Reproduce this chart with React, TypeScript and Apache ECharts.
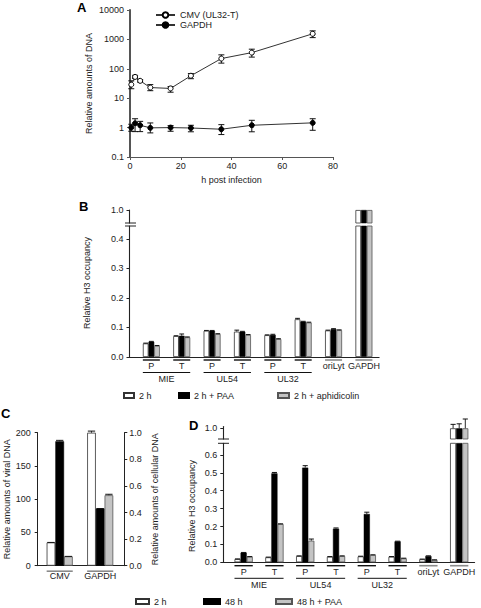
import React, { useEffect, useRef } from 'react';
import * as echarts from 'echarts';

const FONT = '"Liberation Sans", Arial, sans-serif';

// ---------- Panel A ----------
const hoursA = [0.5, 2, 4, 8, 16, 24, 36, 48, 72];
const cmvA = [29, 53, 39, 23, 21.5, 58, 223, 355, 1550];
const cmvLowA = [21, 47, 35, 18, 16, 46, 156, 250, 1150];
const cmvHighA = [39, 60, 43, 29, 25, 69, 298, 465, 1950];
const gapdhA = [1.0, 1.4, 1.2, 0.98, 1.0, 0.97, 0.88, 1.2, 1.45];
const gapdhLowA = [0.75, 0.73, 0.73, 0.66, 0.75, 0.72, 0.58, 0.72, 0.81];
const gapdhHighA = [1.3, 2.0, 1.63, 1.44, 1.17, 1.2, 1.26, 1.77, 2.0];
const seriesA = ['CMV (UL32-T)', 'GAPDH'];

// ---------- Panels B & D (shared categories) ----------
const regionCats = ['P', 'T', 'P', 'T', 'P', 'T', 'oriLyt', 'GAPDH'];
const geneGroups = ['MIE', 'UL54', 'UL32'];
const occTicksB = [0, 0.1, 0.2, 0.3, 0.4];
const occTicksD = [0, 0.1, 0.2, 0.3, 0.4, 0.5, 0.6];

// Panel B
const seriesB = ['2 h', '2 h + PAA', '2 h + aphidicolin'];
const b2h = [0.046, 0.071, 0.089, 0.086, 0.074, 0.128, 0.09, 1.0];
const b2hPAA = [0.052, 0.072, 0.089, 0.086, 0.075, 0.12, 0.095, 1.0];
const b2hAph = [0.038, 0.067, 0.078, 0.075, 0.061, 0.117, 0.091, 1.0];
const b2hTop = [0.047, 0.072, 0.09, 0.091, 0.075, 0.131, 0.091, 1.0];
const b2hPAATop = [0.053, 0.078, 0.09, 0.087, 0.077, 0.121, 0.096, 1.0];
const b2hAphTop = [0.039, 0.068, 0.079, 0.076, 0.062, 0.118, 0.092, 1.0];

// Panel C / D treatments
const seriesCD = ['2 h', '48 h', '48 h + PAA'];

// Panel C
const catsC = ['CMV', 'GAPDH'];
const cViral = [35, 187, 14];
const cViralTop = [35, 188.5, 14];
const cCell = [1.0, 0.43, 0.53];
const cCellTop = [1.012, 0.43, 0.537];

// Panel D
const d2h = [0.018, 0.028, 0.035, 0.031, 0.033, 0.031, 0.017, 1.0];
const d48 = [0.054, 0.497, 0.529, 0.188, 0.27, 0.117, 0.035, 1.0];
const d48PAA = [0.031, 0.214, 0.121, 0.035, 0.041, 0.022, 0.013, 1.0];
const d2hTop = [0.019, 0.029, 0.036, 0.032, 0.034, 0.032, 0.018, 1.022];
const d48Top = [0.055, 0.502, 0.54, 0.192, 0.28, 0.118, 0.036, 1.025];
const d48PAATop = [0.032, 0.215, 0.13, 0.036, 0.042, 0.023, 0.014, 1.052];

// ---------- styles ----------
const TXT = { fontFamily: FONT, fontSize: 9, color: '#222' };
const AXIS_COLOR = '#222';
const barStyles = [
  { color: '#ffffff', borderColor: '#333', borderWidth: 0.8 },
  { color: '#000000', borderColor: '#000', borderWidth: 0.5 },
  { color: '#c4c4c4', borderColor: '#555', borderWidth: 0.8 },
];

const BW_B = 5.67;
const BW_C = 8.7;
const BW_D = 6.1;

const fmt1 = (v: number) => v.toFixed(1);

function errorSeries(xIdx: number, yIdx: number, rows: number[][], bw: number) {
  return {
    type: 'custom',
    xAxisIndex: xIdx,
    yAxisIndex: yIdx,
    silent: true,
    z: 5,
    encode: { x: 0, y: 2 },
    data: rows,
    renderItem: (_p: any, api: any) => {
      const x = api.value(0);
      const slot = api.value(1);
      const v = api.value(2);
      const t = api.value(3);
      const p = api.coord([x, v]);
      const q = api.coord([x, t]);
      const cx = p[0] + (slot - 1) * bw;
      const hw = bw * 0.42;
      return {
        type: 'group',
        children: [
          { type: 'line', shape: { x1: cx, y1: p[1], x2: cx, y2: q[1] }, style: { stroke: '#111', lineWidth: 0.9 } },
          { type: 'line', shape: { x1: cx - hw, y1: q[1], x2: cx + hw, y2: q[1] }, style: { stroke: '#111', lineWidth: 1 } },
        ],
      };
    },
  };
}

function bracketSeries(xIdx: number, yIdx: number, rows: number[][], bw: number, offs: number[]) {
  return {
    type: 'custom',
    xAxisIndex: xIdx,
    yAxisIndex: yIdx,
    silent: true,
    encode: { x: 0, y: 2 },
    data: rows,
    renderItem: (_p: any, api: any) => {
      const xs = api.value(0);
      const xe = api.value(1);
      const level = api.value(2);
      const gray = api.value(3);
      const p1 = api.coord([xs, 0]);
      const p2 = api.coord([xe, 0]);
      const y = p1[1] + offs[level];
      return {
        type: 'line',
        shape: { x1: p1[0] - 1.5 * bw, y1: y, x2: p2[0] + 1.5 * bw, y2: y },
        style: {
          stroke: gray ? '#8a8a8a' : '#111',
          lineWidth: gray ? 1.6 : level === 0 ? 1.4 : 1,
        },
      };
    },
  };
}

function buildOption() {
  const BXMIN = -0.72, BXMAX = 7.5;
  const DXMIN = -0.66, DXMAX = 7.5;
  const CXMIN = -0.543, CXMAX = 1.595;
  const B_UP_MIN = 0.956, B_UP_MAX = 1.0;
  const D_UP_MIN = 0.94, D_UP_MAX = 1.01;

  const hidX = (grid: number, min: number, max: number) => ({
    type: 'value', gridIndex: grid, min, max, show: false, splitLine: { show: false },
  });
  const catX = (grid: number, min: number, max: number, values: number[], names: string[], margin: number, showLine: boolean, offsetIdx: number) => ({
    type: 'value', gridIndex: grid, min, max, position: 'bottom',
    splitLine: { show: false },
    axisLine: { show: showLine, onZero: false, lineStyle: { color: AXIS_COLOR, width: 1.1 } },
    axisTick: { show: false },
    axisLabel: {
      ...TXT,
      margin,
      customValues: values,
      formatter: (v: number) => names[Math.round((v - offsetIdx) / (offsetIdx ? 2 : 1))] ?? '',
    },
  });
  const occY = (grid: number, min: number, max: number, ticks: number[]) => ({
    type: 'value', gridIndex: grid, min, max,
    splitLine: { show: false },
    axisLine: { show: true, onZero: false, lineStyle: { color: AXIS_COLOR, width: 1.1 } },
    axisTick: { show: true, length: 3, customValues: ticks, lineStyle: { color: AXIS_COLOR } },
    axisLabel: { ...TXT, margin: 6, customValues: ticks, formatter: fmt1 },
  });

  const barsFor = (names: string[], arrays: number[][], xIdx: number, yIdx: number, bw: number, filter: (v: number) => boolean, xs?: number[]) =>
    names.map((n, s) => ({
      name: n,
      type: 'bar',
      xAxisIndex: xIdx,
      yAxisIndex: yIdx,
      barWidth: bw,
      barGap: '0%',
      itemStyle: barStyles[s],
      data: arrays[s]
        .map((v, i) => [xs ? xs[i] : i, v])
        .filter((d) => filter(d[1])),
    }));

  const errRows = (vals: number[][], tops: number[][], filter: (v: number) => boolean, xs?: number[]) => {
    const rows: number[][] = [];
    vals.forEach((arr, s) =>
      arr.forEach((v, i) => {
        if (filter(v)) rows.push([xs ? xs[i] : i, s, v, tops[s][i]]);
      })
    );
    return rows;
  };

  const bVals = [b2h, b2hPAA, b2hAph];
  const bTops = [b2hTop, b2hPAATop, b2hAphTop];
  const dVals = [d2h, d48, d48PAA];
  const dTops = [d2hTop, d48Top, d48PAATop];

  const bracketRows: number[][] = [
    ...regionCats.map((c, i) => [i, i, 0, i >= 6 ? 1 : 0]),
    ...geneGroups.map((_g, k) => [2 * k, 2 * k + 1, 1, 0]),
  ];

  const catIdx = regionCats.map((_c, i) => i);
  const groupIdx = geneGroups.map((_g, k) => 2 * k + 0.5);

  const legendItem = (name: string, left: number, top: number, w: number) => ({
    data: [name], left, top, icon: 'rect', itemWidth: w, itemHeight: 5, padding: 0,
    itemGap: 0, selectedMode: false, textStyle: { ...TXT },
  });

  return {
    animation: false,
    backgroundColor: '#ffffff',
    textStyle: { fontFamily: FONT },
    grid: [
      { left: 130, top: 10, width: 203, height: 147, containLabel: false, outerBoundsMode: 'none' },
      { left: 129.5, top: 210, width: 249.6, height: 13, containLabel: false, outerBoundsMode: 'none' },
      { left: 129.5, top: 226, width: 249.6, height: 131, containLabel: false, outerBoundsMode: 'none' },
      { left: 37.7, top: 432.7, width: 86.6, height: 133, containLabel: false, outerBoundsMode: 'none' },
      { left: 223.3, top: 426.5, width: 251.3, height: 12.5, containLabel: false, outerBoundsMode: 'none' },
      { left: 223.3, top: 443.3, width: 251.3, height: 119, containLabel: false, outerBoundsMode: 'none' },
    ],
    legend: [
      {
        data: seriesA, left: 155, top: 10, orient: 'vertical', itemWidth: 19, itemHeight: 7,
        itemGap: 0, padding: 0, selectedMode: false, textStyle: { ...TXT, lineHeight: 10 },
      },
      legendItem(seriesB[0], 123, 391, 10),
      legendItem(seriesB[1], 178, 391, 10),
      legendItem(seriesB[2], 277, 391, 11),
      legendItem(seriesCD[0], 135, 597, 13),
      legendItem(seriesCD[1], 203, 597, 16),
      legendItem(seriesCD[2], 275, 597, 16),
    ],
    xAxis: [
      {
        type: 'value', gridIndex: 0, min: 0, max: 80, interval: 20,
        splitLine: { show: false },
        axisLine: { onZero: false, lineStyle: { color: '#555', width: 1 } },
        axisTick: { show: true, length: 3, lineStyle: { color: '#555' } },
        axisLabel: { ...TXT, margin: 4 },
        name: 'h post infection', nameLocation: 'middle', nameGap: 18, nameTextStyle: { ...TXT },
      },
      hidX(1, BXMIN, BXMAX),
      catX(2, BXMIN, BXMAX, catIdx, regionCats, 4, true, 0),
      catX(2, BXMIN, BXMAX, groupIdx, geneGroups, 17, false, 0.5),
      catX(3, CXMIN, CXMAX, [0, 1], catsC, 6, true, 0),
      hidX(3, CXMIN, CXMAX),
      hidX(4, DXMIN, DXMAX),
      catX(5, DXMIN, DXMAX, catIdx, regionCats, 5, true, 0),
      catX(5, DXMIN, DXMAX, groupIdx, geneGroups, 18, false, 0.5),
    ],
    yAxis: [
      {
        type: 'log', logBase: 10, gridIndex: 0, min: 0.1, max: 10000,
        splitLine: { show: false },
        axisLine: { onZero: false, lineStyle: { color: '#555', width: 2 } },
        axisTick: { show: true, length: 3, lineStyle: { color: '#555' } },
        axisLabel: { ...TXT, margin: 6, formatter: (v: number) => String(Number(v.toPrecision(6))) },
        name: 'Relative amounts of DNA', nameLocation: 'middle', nameGap: 37, nameTextStyle: { ...TXT },
      },
      occY(1, B_UP_MIN, B_UP_MAX, [1]),
      occY(2, 0, 0.444, occTicksB),
      {
        type: 'value', gridIndex: 3, min: 0, max: 200, interval: 50,
        splitLine: { show: false },
        axisLine: { show: true, onZero: false, lineStyle: { color: AXIS_COLOR, width: 1 } },
        axisTick: { show: true, length: 3, lineStyle: { color: AXIS_COLOR } },
        axisLabel: { ...TXT, margin: 7 },
        name: 'Relative amounts of viral DNA', nameLocation: 'middle', nameGap: 25, nameTextStyle: { ...TXT },
      },
      {
        type: 'value', gridIndex: 3, min: 0, max: 1, interval: 0.2, position: 'right',
        splitLine: { show: false },
        axisLine: { show: true, onZero: false, lineStyle: { color: AXIS_COLOR, width: 1 } },
        axisTick: { show: true, length: 3, lineStyle: { color: AXIS_COLOR } },
        axisLabel: { ...TXT, margin: 5, formatter: fmt1 },
        name: 'Relative amounts of cellular DNA', nameLocation: 'middle', nameGap: 26, nameTextStyle: { ...TXT },
      },
      occY(4, D_UP_MIN, D_UP_MAX, [1]),
      occY(5, 0, 0.665, occTicksD),
    ],
    series: [
      // Panel A
      {
        type: 'custom', xAxisIndex: 0, yAxisIndex: 0, silent: true, z: 1,
        encode: { x: 0, y: [1, 2] },
        data: [
          ...hoursA.map((h, i) => [h, cmvLowA[i], cmvHighA[i]]),
          ...hoursA.map((h, i) => [h, gapdhLowA[i], gapdhHighA[i]]),
        ],
        renderItem: (_p: any, api: any) => {
          const a = api.coord([api.value(0), api.value(1)]);
          const b = api.coord([api.value(0), api.value(2)]);
          const hw = 3;
          return {
            type: 'group',
            children: [
              { type: 'line', shape: { x1: a[0], y1: a[1], x2: b[0], y2: b[1] }, style: { stroke: '#111', lineWidth: 1 } },
              { type: 'line', shape: { x1: a[0] - hw, y1: a[1], x2: a[0] + hw, y2: a[1] }, style: { stroke: '#111', lineWidth: 1 } },
              { type: 'line', shape: { x1: b[0] - hw, y1: b[1], x2: b[0] + hw, y2: b[1] }, style: { stroke: '#111', lineWidth: 1 } },
            ],
          };
        },
      },
      {
        name: seriesA[0], type: 'line', xAxisIndex: 0, yAxisIndex: 0, z: 3,
        data: hoursA.map((h, i) => [h, cmvA[i]]),
        symbol: 'circle', symbolSize: 5,
        itemStyle: { color: '#ffffff', borderColor: '#000', borderWidth: 1 },
        lineStyle: { color: '#333', width: 1 },
      },
      {
        name: seriesA[1], type: 'line', xAxisIndex: 0, yAxisIndex: 0, z: 3,
        data: hoursA.map((h, i) => [h, gapdhA[i]]),
        symbol: 'circle', symbolSize: 5,
        itemStyle: { color: '#000', borderColor: '#000', borderWidth: 1 },
        lineStyle: { color: '#333', width: 1 },
      },
      // Panel B
      ...barsFor(seriesB, bVals, 1, 1, BW_B, (v) => v > B_UP_MIN),
      ...barsFor(seriesB, bVals, 2, 2, BW_B, () => true),
      errorSeries(2, 2, errRows(bVals, bTops, (v) => v < 0.444), BW_B),
      bracketSeries(2, 2, bracketRows, BW_B, [3, 15.5]),
      // Panel C
      ...seriesCD.map((n, s) => ({
        name: n, type: 'bar', xAxisIndex: 4, yAxisIndex: 3, barWidth: BW_C, barGap: '0%',
        itemStyle: barStyles[s], data: [[0, cViral[s]]],
      })),
      ...seriesCD.map((n, s) => ({
        name: n, type: 'bar', xAxisIndex: 5, yAxisIndex: 4, barWidth: BW_C, barGap: '0%',
        itemStyle: barStyles[s], data: [[1, cCell[s]]],
      })),
      errorSeries(4, 3, cViral.map((v, s) => [0, s, v, cViralTop[s]]), BW_C),
      errorSeries(5, 4, cCell.map((v, s) => [1, s, v, cCellTop[s]]), BW_C),
      bracketSeries(4, 3, catsC.map((_c, i) => [i, i, 0, 1]), BW_C, [5.5, 0]),
      // Panel D
      ...barsFor(seriesCD, dVals, 6, 5, BW_D, (v) => v > D_UP_MIN),
      ...barsFor(seriesCD, dVals, 7, 6, BW_D, () => true),
      errorSeries(6, 5, errRows(dVals, dTops, (v) => v > D_UP_MIN), BW_D),
      errorSeries(7, 6, errRows(dVals, dTops, (v) => v < 0.665), BW_D),
      bracketSeries(7, 6, bracketRows, BW_D, [3.4, 16]),
    ],
    graphic: [
      { type: 'text', x: 77, y: 1, style: { text: 'A', font: `bold 13px ${FONT}`, fill: '#000', align: 'left', verticalAlign: 'top' } },
      { type: 'text', x: 79, y: 200, style: { text: 'B', font: `bold 13px ${FONT}`, fill: '#000', align: 'left', verticalAlign: 'top' } },
      { type: 'text', x: 1, y: 407, style: { text: 'C', font: `bold 13px ${FONT}`, fill: '#000', align: 'left', verticalAlign: 'top' } },
      { type: 'text', x: 189, y: 419, style: { text: 'D', font: `bold 13px ${FONT}`, fill: '#000', align: 'left', verticalAlign: 'top' } },
      { type: 'line', shape: { x1: 125, y1: 223, x2: 136, y2: 223 }, style: { stroke: '#222', lineWidth: 1 } },
      { type: 'line', shape: { x1: 125, y1: 226, x2: 136, y2: 226 }, style: { stroke: '#222', lineWidth: 1 } },
      { type: 'line', shape: { x1: 218, y1: 439, x2: 229, y2: 439 }, style: { stroke: '#222', lineWidth: 1 } },
      { type: 'line', shape: { x1: 218, y1: 443.3, x2: 229, y2: 443.3 }, style: { stroke: '#222', lineWidth: 1 } },
      {
        type: 'text', x: 87, y: 283, rotation: Math.PI / 2,
        style: { text: 'Relative H3 occupancy', font: `9px ${FONT}`, fill: '#222', align: 'center', verticalAlign: 'middle' },
      },
      {
        type: 'text', x: 191.7, y: 506, rotation: Math.PI / 2,
        style: { text: 'Relative H3 occupancy', font: `9px ${FONT}`, fill: '#222', align: 'center', verticalAlign: 'middle' },
      },
    ],
  };
}

export default function App() {
  const ref = useRef<HTMLDivElement>(null);
  useEffect(() => {
    if (!ref.current) return;
    const chart = echarts.init(ref.current, null, { renderer: 'svg' });
    chart.setOption(buildOption() as any);
    return () => chart.dispose();
  }, []);
  return (
    <div
      ref={ref}
      style={{ position: 'fixed', left: 0, top: 0, width: 481, height: 608, background: '#fff' }}
    />
  );
}
